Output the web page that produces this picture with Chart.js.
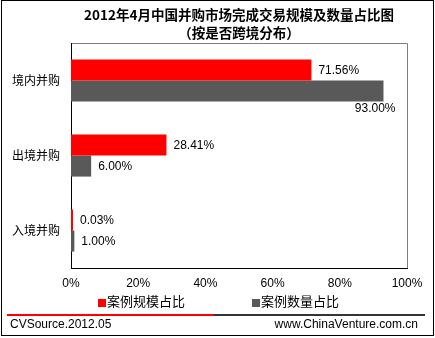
<!DOCTYPE html>
<html>
<head>
<meta charset="utf-8">
<script src="https://cdn.jsdelivr.net/npm/chart.js@4.4.1/dist/chart.umd.min.js"></script>
<style>
html, body { margin: 0; padding: 0; background: #fff; }
</style>
</head>
<body>
<canvas id="barChart" width="435" height="338"></canvas>
<script>
// 数据
var categories = ['境内并购', '出境并购', '入境并购'];
var scaleShare = [71.56, 28.41, 0.03];   // 案例规模占比
var countShare = [93.00, 6.00, 1.00];    // 案例数量占比
var seriesNames = ['案例规模占比', '案例数量占比'];
var seriesColors = ['#ff0000', '#595959'];
var xTicks = [0, 20, 40, 60, 80, 100];
var titleLines = ['2012年4月中国并购市场完成交易规模及数量占比图', '（按是否跨境分布）'];
var footerLeft = 'CVSource.2012.05';
var footerRight = 'www.ChinaVenture.com.cn';

var latin = '"Liberation Sans", Arial, sans-serif';
var cjk = '"Noto Sans CJK SC", sans-serif';

// 外框, 标题, 图例, 页脚
var frame = {
    id: 'frame',
    beforeDraw: function (chart) {
        var ctx = chart.ctx;
        var a = chart.chartArea;
        ctx.save();
        ctx.fillStyle = '#fff';
        ctx.fillRect(0, 0, chart.width, chart.height);

        // plot area top/right border (gray)
        ctx.strokeStyle = '#808080';
        ctx.lineWidth = 1;
        ctx.beginPath();
        ctx.moveTo(a.left, Math.round(a.top) + 0.5);
        ctx.lineTo(Math.round(a.right) + 0.5, Math.round(a.top) + 0.5);
        ctx.lineTo(Math.round(a.right) + 0.5, a.bottom);
        ctx.stroke();
        ctx.restore();
    },
    afterDraw: function (chart) {
        var ctx = chart.ctx;
        ctx.save();

        // outer border
        ctx.strokeStyle = '#000';
        ctx.lineWidth = 1;
        ctx.strokeRect(1.5, 0.5, 432, 335);

        // title
        ctx.fillStyle = '#000';
        ctx.textAlign = 'center';
        ctx.textBaseline = 'middle';
        ctx.font = 'bold 13.5px ' + cjk;
        ctx.fillText(titleLines[0], 239, 15);
        ctx.fillText(titleLines[1], 239, 33);

        // legend
        ctx.font = '13px ' + cjk;
        ctx.textAlign = 'left';
        var lx = [98, 252];
        seriesNames.forEach(function (name, i) {
            ctx.fillStyle = seriesColors[i];
            ctx.fillRect(lx[i], 299, 8, 8);
            ctx.fillStyle = '#000';
            ctx.fillText(name, lx[i] + 9, 301);
        });

        // footer line
        ctx.fillStyle = '#ff0000';
        ctx.fillRect(7, 314, 207, 2);
        ctx.fillStyle = '#333';
        ctx.fillRect(214, 314, 211, 2);

        // footer text
        ctx.fillStyle = '#000';
        ctx.font = '12px ' + latin;
        ctx.textAlign = 'left';
        ctx.fillText(footerLeft, 10, 325);
        ctx.textAlign = 'right';
        ctx.fillText(footerRight, 418, 325);
        ctx.restore();
    }
};

// 数据标签
var barLabels = {
    id: 'barLabels',
    afterDatasetsDraw: function (chart) {
        var ctx = chart.ctx;
        ctx.save();
        ctx.font = '12px ' + latin;
        ctx.fillStyle = '#000';
        ctx.textBaseline = 'middle';
        chart.data.datasets.forEach(function (ds, i) {
            chart.getDatasetMeta(i).data.forEach(function (bar, j) {
                var txt = ds.data[j].toFixed(2) + '%';
                var w = ctx.measureText(txt).width;
                if (bar.x + 8 + w > chart.chartArea.right) {
                    ctx.textAlign = 'right';
                    ctx.fillText(txt, bar.x + 12, bar.y + 18);
                } else {
                    ctx.textAlign = 'left';
                    ctx.fillText(txt, bar.x + 7, bar.y + 1);
                }
            });
        });
        ctx.restore();
    }
};

var ctx = document.getElementById('barChart');
var myBarChart = new Chart(ctx, {
    type: 'bar',
    data: {
        labels: categories,
        datasets: [
            {
                label: seriesNames[0],
                data: scaleShare,
                backgroundColor: seriesColors[0],
                barPercentage: 1,
                categoryPercentage: 0.5625,
                minBarLength: 2
            },
            {
                label: seriesNames[1],
                data: countShare,
                backgroundColor: seriesColors[1],
                barPercentage: 1,
                categoryPercentage: 0.5625
            }
        ]
    },
    options: {
        indexAxis: 'y',
        responsive: false,
        animation: false,
        devicePixelRatio: 1,
        layout: { padding: { top: 43, right: 28, left: 0, bottom: 40 } },
        plugins: {
            legend: { display: false },
            title: { display: false },
            tooltip: { enabled: false }
        },
        scales: {
            x: {
                min: 0,
                max: 100,
                afterBuildTicks: function (s) {
                    s.ticks = xTicks.map(function (v) { return { value: v }; });
                },
                afterFit: function (s) { s.height = 30; },
                grid: { display: false, drawTicks: false },
                border: { display: true, color: '#000', width: 1 },
                ticks: {
                    color: '#000',
                    padding: 8,
                    maxRotation: 0,
                    font: { family: latin, size: 12 },
                    callback: function (v) { return v + '%'; }
                }
            },
            y: {
                afterFit: function (s) { s.width = 71; },
                grid: { display: false, drawTicks: false },
                border: { display: true, color: '#000', width: 1 },
                ticks: {
                    color: '#000',
                    padding: 11,
                    font: { family: cjk, size: 12 }
                }
            }
        }
    },
    plugins: [frame, barLabels]
});
</script>
</body>
</html>
